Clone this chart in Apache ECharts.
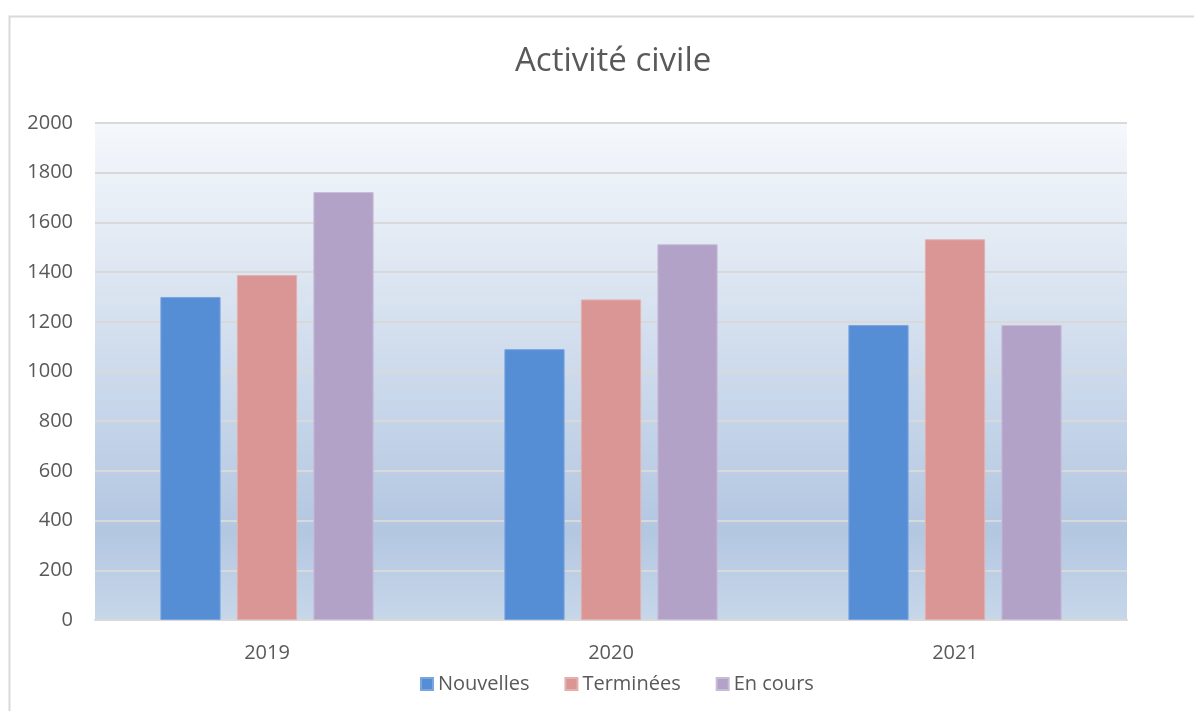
<!DOCTYPE html>
<html>
<head>
<meta charset="utf-8">
<script src="https://cdn.jsdelivr.net/npm/echarts@6/dist/echarts.min.js"></script>
<style>
  html, body { margin: 0; padding: 0; background: #fff; }
  #chart { width: 1194px; height: 711px; }
</style>
</head>
<body>
<div id="chart"></div>
<script>
// données
var years = ['2019', '2020', '2021'];
var nouvelles = [1300, 1090, 1187];
var terminees = [1388, 1290, 1532];
var enCours = [1722, 1512, 1187];
var yTicks = [0, 200, 400, 600, 800, 1000, 1200, 1400, 1600, 1800, 2000];

var font = 'Open Sans';
var grey = '#595959';

var myChart = echarts.init(document.getElementById('chart'));
myChart.setOption({
    animation: false,
    textStyle: { fontFamily: font },
    graphic: [
        // cadre gris du graphique
        {
            type: 'rect',
            shape: { x: 9.5, y: 16.5, width: 1200, height: 720 },
            style: { fill: 'none', stroke: '#d9d9d9', lineWidth: 2 },
            silent: true
        },
        // fond dégradé de la zone de tracé
        {
            type: 'rect',
            z: -1,
            shape: { x: 95, y: 123, width: 1032, height: 497 },
            style: {
                fill: new echarts.graphic.LinearGradient(0, 0, 0, 1, [
                    { offset: 0, color: '#f5f8fc' },
                    { offset: 0.82, color: '#b3c7e1' },
                    { offset: 1, color: '#c7d7ea' }
                ])
            },
            silent: true
        }
    ],
    title: {
        text: 'Activité civile',
        left: 510,
        top: 40,
        textStyle: { fontFamily: font, fontSize: 33, fontWeight: 'normal', color: grey }
    },
    legend: {
        bottom: 12,
        left: 415,
        itemWidth: 12,
        itemHeight: 12,
        itemGap: 35,
        icon: 'rect',
        textStyle: { fontFamily: font, fontSize: 20, color: grey },
        data: ['Nouvelles', 'Terminées', 'En cours']
    },
    grid: { left: 95, right: 67, top: 123, bottom: 91 },
    xAxis: {
        type: 'category',
        data: years,
        axisLine: { lineStyle: { color: '#d9d9d9', width: 2 } },
        axisTick: { show: false },
        axisLabel: { fontFamily: font, fontSize: 20, color: grey, margin: 23 }
    },
    yAxis: {
        type: 'value',
        min: yTicks[0],
        max: yTicks[yTicks.length - 1],
        interval: 200,
        axisLine: { show: false },
        axisTick: { show: false },
        splitLine: { lineStyle: { color: '#d9d9d9', width: 2 } },
        axisLabel: {
            fontFamily: font, fontSize: 20, color: grey, margin: 22,
            formatter: function (v) { return String(v); }
        }
    },
    series: [
        {
            name: 'Nouvelles', type: 'bar', data: nouvelles,
            barGap: '27%', barCategoryGap: '38%',
            itemStyle: { color: '#558ed5', borderColor: '#7aa6e0', borderWidth: 1 }
        },
        {
            name: 'Terminées', type: 'bar', data: terminees,
            itemStyle: { color: '#da9694', borderColor: '#e4b0ae', borderWidth: 1 }
        },
        {
            name: 'En cours', type: 'bar', data: enCours,
            itemStyle: { color: '#b3a2c7', borderColor: '#c8bbd8', borderWidth: 1 }
        }
    ]
});
</script>
</body>
</html>
